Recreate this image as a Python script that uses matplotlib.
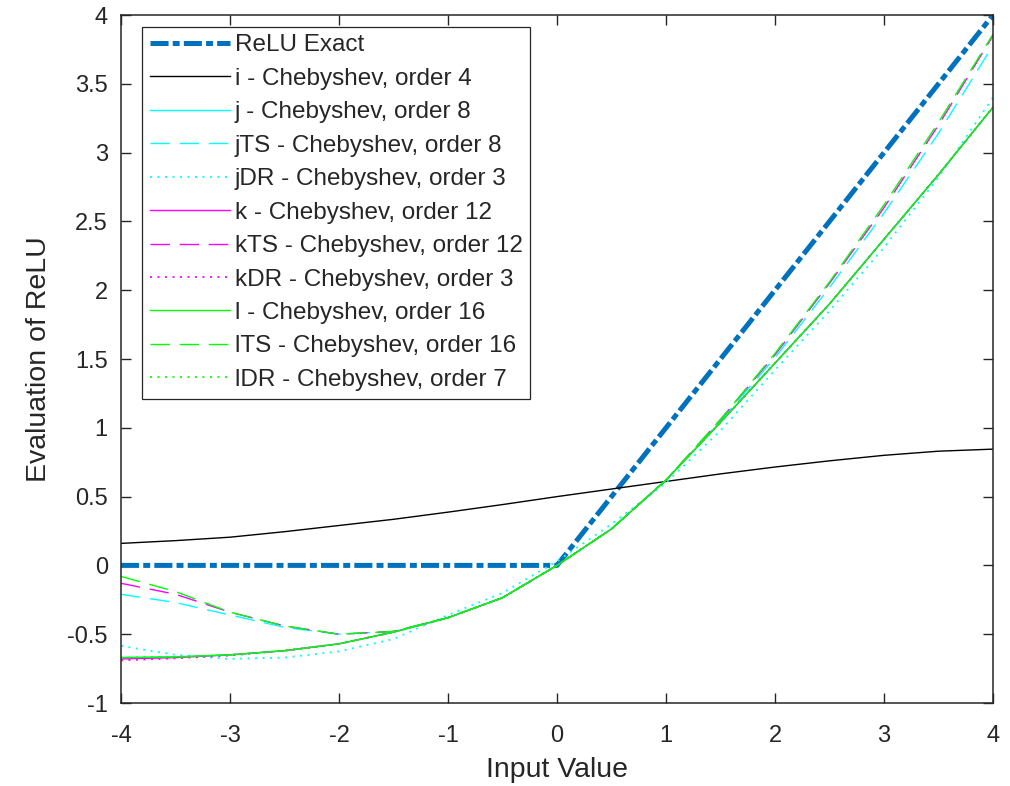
import matplotlib
matplotlib.use("Agg")
import matplotlib.pyplot as plt

plt.rcParams["font.family"] = ["Liberation Sans", "DejaVu Sans"]
plt.rcParams["lines.scale_dashes"] = False

x_vals = [-4, -3.5, -3, -2.5, -2, -1.5, -1, -0.5, 0, 0.5, 1, 1.5, 2, 2.5, 3, 3.5, 4]

relu_x = [-4, 0, 4]
relu_y = [0, 0, 4]

i_y = [0.16, 0.18, 0.205, 0.245, 0.29, 0.335, 0.387, 0.442, 0.50, 0.555, 0.61, 0.665, 0.715, 0.76, 0.80, 0.83, 0.845]

j_y = [-0.67, -0.665, -0.65, -0.62, -0.57, -0.485, -0.38, -0.235, 0.0, 0.265, 0.62, 1.04, 1.47, 1.9, 2.37, 2.84, 3.33]
jTS_y = [-0.21, -0.27, -0.36, -0.45, -0.50, -0.48, -0.38, -0.235, 0.0, 0.265, 0.62, 1.05, 1.51, 2.02, 2.56, 3.14, 3.78]
jDR_y = [-0.585, -0.65, -0.68, -0.67, -0.625, -0.535, -0.36, -0.2, 0.03, 0.3, 0.6, 0.98, 1.42, 1.85, 2.31, 2.82, 3.40]

k_y = [-0.68, -0.67, -0.65, -0.62, -0.57, -0.485, -0.38, -0.235, 0.0, 0.265, 0.62, 1.04, 1.47, 1.9, 2.37, 2.84, 3.33]
kTS_y = [-0.13, -0.21, -0.34, -0.44, -0.50, -0.48, -0.38, -0.235, 0.0, 0.265, 0.62, 1.06, 1.53, 2.05, 2.60, 3.20, 3.85]
kDR_y = [-0.69, -0.675, -0.655, -0.62, -0.57, -0.485, -0.38, -0.235, 0.0, 0.265, 0.62, 1.04, 1.47, 1.9, 2.37, 2.84, 3.33]

l_y = [-0.67, -0.665, -0.65, -0.62, -0.57, -0.485, -0.38, -0.235, 0.0, 0.265, 0.62, 1.04, 1.47, 1.9, 2.37, 2.84, 3.33]
lTS_y = [-0.08, -0.19, -0.34, -0.44, -0.50, -0.48, -0.38, -0.235, 0.0, 0.265, 0.62, 1.06, 1.54, 2.06, 2.62, 3.22, 3.86]
lDR_y = [-0.67, -0.665, -0.65, -0.62, -0.57, -0.485, -0.38, -0.235, 0.0, 0.265, 0.62, 1.04, 1.47, 1.9, 2.37, 2.84, 3.33]

x_ticks = [-4, -3, -2, -1, 0, 1, 2, 3, 4]
y_ticks = [-1, -0.5, 0, 0.5, 1, 1.5, 2, 2.5, 3, 3.5, 4]
y_tick_labels = ["-1", "-0.5", "0", "0.5", "1", "1.5", "2", "2.5", "3", "3.5", "4"]

dash = (14, 7)
dot = (1.4, 4)
lw = 1.0
dark = "#262626"

fig = plt.figure(figsize=(10.1, 7.86), dpi=100)
ax = fig.add_axes([121 / 1010, 83 / 786, 872 / 1010, 688 / 786])

ax.plot(relu_x, relu_y, color="#0072BD", lw=3.6, dashes=(13, 3, 5, 3),
        label="ReLU Exact")
ax.plot(x_vals, i_y, color="black", lw=lw, label="i - Chebyshev, order 4")
ax.plot(x_vals, j_y, color="cyan", lw=lw, label="j - Chebyshev, order 8")
ax.plot(x_vals, jTS_y, color="cyan", lw=lw, dashes=dash, label="jTS - Chebyshev, order 8")
ax.plot(x_vals, jDR_y, color="cyan", lw=1.3, dashes=dot, label="jDR - Chebyshev, order 3")
ax.plot(x_vals, k_y, color="magenta", lw=lw, label="k - Chebyshev, order 12")
ax.plot(x_vals, kTS_y, color="magenta", lw=lw, dashes=dash, label="kTS - Chebyshev, order 12")
ax.plot(x_vals, kDR_y, color="magenta", lw=1.3, dashes=dot, label="kDR - Chebyshev, order 3")
ax.plot(x_vals, l_y, color="lime", lw=lw, label="l - Chebyshev, order 16")
ax.plot(x_vals, lTS_y, color="lime", lw=lw, dashes=dash, label="lTS - Chebyshev, order 16")
ax.plot(x_vals, lDR_y, color="lime", lw=1.3, dashes=dot, label="lDR - Chebyshev, order 7")

ax.set_xlim(-4, 4)
ax.set_ylim(-1, 4)
ax.set_xticks(x_ticks)
ax.set_xticklabels([str(t) for t in x_ticks])
ax.set_yticks(y_ticks)
ax.set_yticklabels(y_tick_labels)
ax.tick_params(direction="in", length=7, width=1, colors=dark, labelsize=17,
               top=True, right=True)
ax.tick_params(axis="y", pad=9.5)
ax.tick_params(axis="x", pad=16)
for s in ax.spines.values():
    s.set_color(dark)
    s.set_linewidth(1.1)

ax.set_xlabel("Input Value", fontsize=20.5, color=dark, labelpad=7)
ax.set_ylabel("Evaluation of ReLU", fontsize=20.5, color=dark, labelpad=11)

leg = ax.legend(loc="upper left", bbox_to_anchor=(0.024, 0.983), borderaxespad=0,
                fontsize=17.5, handlelength=3.3, handletextpad=0.2,
                labelspacing=0.47, borderpad=0.32, fancybox=False, framealpha=1)
leg.get_frame().set_edgecolor(dark)
leg.get_frame().set_linewidth(0.9)
for t in leg.get_texts():
    t.set_color(dark)

fig.savefig("out.png", dpi=100)
